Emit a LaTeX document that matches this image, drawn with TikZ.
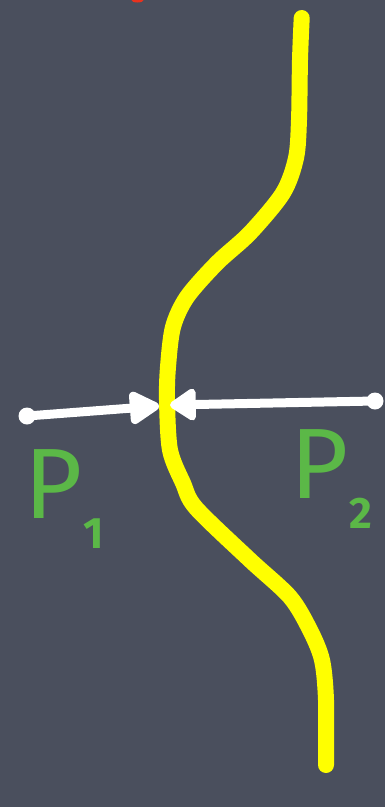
\documentclass[tikz,border=0pt]{standalone}
\usepackage{fontspec}
\setmainfont{Fira Sans}
\usetikzlibrary{arrows.meta}
\definecolor{board}{HTML}{4A4F5D}
\definecolor{chalkyellow}{HTML}{FFFF00}
\definecolor{chalkgreen}{HTML}{5BB847}
\definecolor{chalkred}{HTML}{E8321E}
\tikzset{
  forcearrow/.style={white, line width=9pt, line cap=round,
    -{Triangle[round,length=#1,width=36pt]}},
  enddot/.style={circle, fill=white, inner sep=0pt, minimum size=17pt},
  lbl/.style={text=chalkgreen, inner sep=0pt, anchor=base west,
    font=\fontsize{100}{100}\selectfont},
}
\newcommand{\subnum}[1]{\kern1pt\raisebox{-30pt}{\fontsize{44}{44}\selectfont\bfseries #1}}
\begin{document}
\begin{tikzpicture}[x=1pt,y=-1pt]
  \fill[board] (0,0) rectangle (385,807);
  \useasboundingbox (0,0) rectangle (385,807);
  \fill[chalkred] (137.5,0) ellipse (6 and 2.5);
  % yellow boundary
  \draw[chalkyellow, line width=16pt, line cap=round, line join=round]
    plot[smooth, tension=0.5] coordinates {
      (301.7,18) (300,60) (299,120) (296,158) (283,193) (250,233) (217,263)
      (187,297) (173,327) (168,367) (167,400) (170,450) (183,483) (196,508)
      (250,560) (290,597) (310,630) (322,660) (326,700) (326,765)};
  % arrows
  \node[enddot] (d1) at (27,416) {};
  \node[enddot] (d2) at (375,401) {};
  \coordinate (t1) at (159,406);
  \coordinate (t2) at (170,405);
  \draw[forcearrow=34pt] (d1.center) -- (t1);
  \draw[forcearrow=29pt] (d2.center) -- (t2);
  % labels
  \node[lbl] (p1) at (24,518) {P\subnum{1}};
  \node[lbl] (p2) at (290,498) {P\subnum{2}};
\end{tikzpicture}
\end{document}
